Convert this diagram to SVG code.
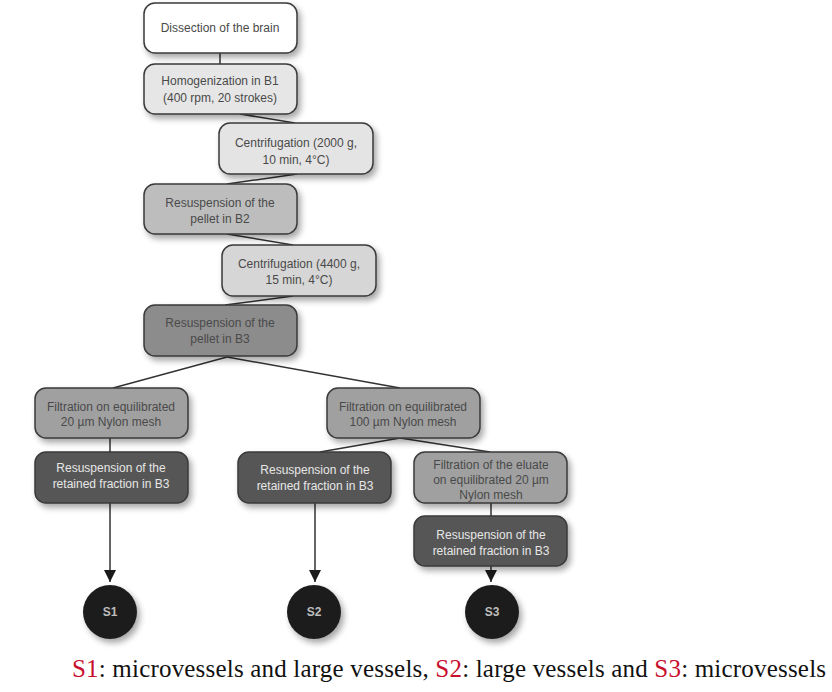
<svg xmlns="http://www.w3.org/2000/svg" width="832" height="692" viewBox="0 0 832 692">
<defs>
<filter id="sh" x="-20%" y="-20%" width="150%" height="160%">
<feGaussianBlur in="SourceAlpha" stdDeviation="3"/>
<feOffset dx="3" dy="4" result="b"/>
<feComponentTransfer><feFuncA type="linear" slope="0.35"/></feComponentTransfer>
<feMerge><feMergeNode/><feMergeNode in="SourceGraphic"/></feMerge>
</filter>
<marker id="arr" viewBox="0 0 10 10" refX="10" refY="5" markerWidth="12" markerHeight="12" markerUnits="userSpaceOnUse" orient="auto">
<path d="M0,0 L10,5 L0,10 Z" fill="#1a1a1a"/>
</marker>
</defs>
<style>
.box{stroke:#3a3a3a;stroke-width:1.5;filter:url(#sh)}
.t{font-family:"Liberation Sans",Arial,sans-serif;font-size:12px;fill:#4a4a4a;text-anchor:middle}
.tl{font-family:"Liberation Sans",Arial,sans-serif;font-size:12px;fill:#e6e6e6;text-anchor:middle}
.c{fill:#1e1e1e;filter:url(#sh)}
.ct{font-family:"Liberation Sans",Arial,sans-serif;font-size:12px;font-weight:bold;fill:#bdbdbd;text-anchor:middle}
.ln{stroke:#333;stroke-width:1.5;fill:none}
.cap{font-family:"Liberation Serif","Times New Roman",serif;font-size:25px;fill:#111}
.red{fill:#c8102e}
</style>
<rect width="832" height="692" fill="#fff"/>
<g id="connectors">
<line class="ln" x1="220" y1="53" x2="220" y2="64"/>
<line class="ln" x1="240" y1="114" x2="295" y2="123"/>
<line class="ln" x1="297" y1="174" x2="227" y2="184"/>
<line class="ln" x1="227" y1="234" x2="293" y2="245"/>
<line class="ln" x1="293" y1="296" x2="225" y2="305"/>
<line class="ln" x1="227" y1="357" x2="113" y2="388"/>
<line class="ln" x1="227" y1="357" x2="400" y2="388"/>
<line class="ln" x1="110" y1="438" x2="110" y2="452"/>
<line class="ln" x1="110" y1="503" x2="110" y2="582" marker-end="url(#arr)"/>
<line class="ln" x1="400" y1="438" x2="320" y2="452"/>
<line class="ln" x1="400" y1="438" x2="490" y2="452"/>
<line class="ln" x1="315" y1="503" x2="315" y2="582" marker-end="url(#arr)"/>
<line class="ln" x1="491" y1="503" x2="491" y2="516"/>
<line class="ln" x1="491" y1="566" x2="491" y2="582" marker-end="url(#arr)"/>
</g>
<g id="n1"><rect class="box" x="144" y="3" width="153" height="50" rx="11" fill="#ffffff"/><text class="t" x="220" y="32">Dissection of the brain</text></g>
<g id="n2"><rect class="box" x="144" y="64" width="153" height="50" rx="11" fill="#e6e6e6"/><text class="t" x="220" y="85">Homogenization in B1</text><text class="t" x="220" y="102">(400 rpm, 20 strokes)</text></g>
<g id="n3"><rect class="box" x="219" y="123" width="154" height="51" rx="11" fill="#e4e4e4"/><text class="t" x="296" y="147">Centrifugation (2000 g,</text><text class="t" x="296" y="164">10 min, 4°C)</text></g>
<g id="n4"><rect class="box" x="144" y="184" width="153" height="50" rx="11" fill="#bdbdbd"/><text class="t" x="220" y="207">Resuspension of the</text><text class="t" x="220" y="223">pellet in B2</text></g>
<g id="n5"><rect class="box" x="222" y="245" width="154" height="51" rx="11" fill="#d6d6d6"/><text class="t" x="299" y="268">Centrifugation (4400 g,</text><text class="t" x="299" y="284">15 min, 4°C)</text></g>
<g id="n6"><rect class="box" x="144" y="305" width="153" height="51" rx="11" fill="#8c8c8c"/><text class="t" x="220" y="327">Resuspension of the</text><text class="t" x="220" y="343">pellet in B3</text></g>
<g id="n7"><rect class="box" x="35" y="388" width="153" height="50" rx="11" fill="#a0a0a0"/><text class="t" x="111" y="411">Filtration on equilibrated</text><text class="t" x="111" y="426">20 µm Nylon mesh</text></g>
<g id="n8"><rect class="box" x="35" y="452" width="153" height="51" rx="11" fill="#575757"/><text class="tl" x="111" y="472">Resuspension of the</text><text class="tl" x="111" y="488">retained fraction in B3</text></g>
<g id="n9"><rect class="box" x="327" y="388" width="153" height="50" rx="11" fill="#a0a0a0"/><text class="t" x="403" y="411">Filtration on equilibrated</text><text class="t" x="403" y="426">100 µm Nylon mesh</text></g>
<g id="n10"><rect class="box" x="238" y="452" width="153" height="51" rx="11" fill="#575757"/><text class="tl" x="315" y="474">Resuspension of the</text><text class="tl" x="315" y="490">retained fraction in B3</text></g>
<g id="n11"><rect class="box" x="414" y="452" width="153" height="51" rx="11" fill="#a0a0a0"/><text class="t" x="491" y="469">Filtration of the eluate</text><text class="t" x="491" y="484">on equilibrated 20 µm</text><text class="t" x="491" y="499">Nylon mesh</text></g>
<g id="n12"><rect class="box" x="414" y="516" width="153" height="50" rx="11" fill="#575757"/><text class="tl" x="491" y="539">Resuspension of the</text><text class="tl" x="491" y="555">retained fraction in B3</text></g>
<g id="s1"><circle class="c" cx="110" cy="612" r="27"/><text class="ct" x="110" y="616">S1</text></g>
<g id="s2"><circle class="c" cx="314" cy="612" r="27"/><text class="ct" x="314" y="616">S2</text></g>
<g id="s3"><circle class="c" cx="492" cy="612" r="27"/><text class="ct" x="492" y="616">S3</text></g>
<text class="cap" x="72" y="677" textLength="754" lengthAdjust="spacing"><tspan class="red">S1</tspan>: microvessels and large vessels, <tspan class="red">S2</tspan>: large vessels and <tspan class="red">S3</tspan>: microvessels</text>
</svg>
